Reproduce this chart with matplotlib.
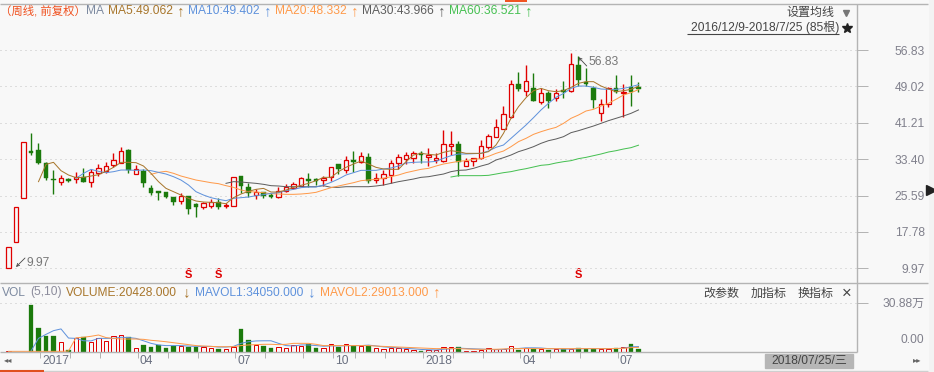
import numpy as np
import matplotlib
matplotlib.use('Agg')
import matplotlib.pyplot as plt
from matplotlib.patches import Rectangle

plt.rcParams['font.family'] = ['Liberation Sans', 'Noto Sans CJK SC', 'DejaVu Sans']

W, H = 934, 372
BG = '#f8f8f8'
RED = '#e00000'
GREEN = '#1b7a0c'
GRID = '#c4c4c4'
BORDER = '#b4b4b4'
C_MA5 = '#a8762c'
C_MA10 = '#5f92dc'
C_MA20 = '#ff9a4a'
C_MA30 = '#5e5e5e'
C_MA60 = '#46c052'

# candle data, weekly bars 2016/12/9 - 2018/7/25
opens = [9.97, 15.68, 25.13, 35.1, 35.37, 32.58, 29.14, 28.6, 29.14, 29.08, 29.5, 28.56, 30.5, 30.92, 32.2, 32.58, 35.37,
         30.15, 30.86, 27.2, 26.5, 26.35, 25.28, 24.48, 25.49, 23.77, 23.2, 23.41, 24.2, 23.28, 23.41, 29.79, 27.36, 25.77,
         26.35, 25.64, 25.34, 26.63, 27.2, 27.64, 29.14, 29.08, 28.86, 29.64, 32.36, 31.07, 33.16, 32.8, 33.8, 29.0, 29.42,
         30.0, 32.64, 33.5, 33.7, 34.7, 33.87, 33.2, 33.0, 36.3, 36.66, 32.0, 33.0, 33.59, 36.08, 38.2, 39.81, 42.4, 49.47,
         48.1, 48.62, 45.74, 47.54, 46.6, 48.25, 48.1, 53.62, 50.03, 48.62, 43.38, 45.18, 48.62, 47.54, 48.83, 48.83]
closes = [14.48, 23.07, 37.02, 34.7, 32.64, 29.36, 28.86, 29.3, 28.72, 29.64, 28.56, 30.58, 31.44, 31.87, 33.16, 35.09, 31.07,
          31.29, 28.35, 26.2, 26.2, 25.34, 24.2, 25.43, 22.77, 23.13, 23.99, 24.14, 23.2, 23.56, 29.5, 27.57, 26.2, 26.35,
          25.49, 25.34, 26.63, 27.49, 28.0, 29.3, 28.7, 28.78, 29.42, 31.65, 31.29, 33.16, 32.8, 34.0, 28.7, 29.3, 30.28,
          32.5, 33.8, 34.23, 34.66, 34.23, 34.3, 33.59, 36.6, 36.66, 32.73, 32.94, 33.59, 36.16, 38.3, 40.24, 43.03, 49.47,
          48.47, 50.12, 45.95, 47.54, 45.9, 47.67, 47.9, 53.77, 50.4, 49.54, 46.1, 45.18, 48.62, 47.9, 47.9, 47.9, 48.53]
highs = [14.48, 23.07, 37.02, 38.95, 36.8, 32.7, 31.07, 30.0, 29.4, 30.58, 31.44, 31.3, 32.36, 32.7, 34.7, 35.95, 35.5,
         32.15, 31.2, 27.8, 26.5, 26.35, 25.28, 26.07, 25.49, 23.9, 24.2, 24.85, 25.0, 23.93, 29.5, 29.79, 28.3, 26.93,
         26.35, 26.07, 27.36, 28.0, 28.5, 29.64, 30.5, 29.4, 29.79, 31.8, 32.36, 34.1, 35.15, 34.94, 34.7, 30.5, 31.07,
         33.2, 34.5, 35.0, 35.15, 35.15, 35.73, 34.66, 39.66, 39.45, 37.36, 33.59, 33.59, 37.5, 38.8, 41.96, 44.8, 50.4,
         52.2, 53.6, 51.9, 48.62, 48.0, 48.4, 50.25, 56.13, 55.55, 52.9, 49.1, 46.25, 48.9, 51.47, 49.54, 51.5, 50.0]
lows = [9.97, 15.68, 25.13, 34.3, 32.4, 28.93, 25.92, 27.85, 28.6, 28.35, 28.5, 27.5, 29.85, 30.37, 31.78, 32.5, 30.5,
        30.15, 27.4, 25.7, 24.63, 25.06, 23.63, 23.84, 21.63, 20.98, 22.77, 22.98, 22.77, 22.98, 23.41, 26.07, 25.34, 24.78,
        25.06, 25.0, 25.13, 26.29, 27.0, 27.64, 27.5, 27.85, 27.64, 28.78, 30.2, 30.5, 30.7, 32.5, 28.35, 28.35, 27.79,
        28.35, 31.29, 32.36, 32.5, 32.64, 31.93, 32.64, 32.8, 34.3, 29.85, 32.0, 32.0, 33.44, 35.65, 38.2, 39.81, 42.2,
        48.1, 46.96, 45.95, 45.25, 44.3, 45.95, 46.6, 47.9, 49.1, 49.1, 44.3, 41.66, 44.5, 47.54, 42.4, 44.8, 47.9]

# moving averages, each starts at its own bar
ma5_start = 4
ma5 = [28.57, 32.29, 32.72, 30.93, 30.0, 29.43, 29.5, 29.78, 30.07, 30.79, 31.64, 32.72, 32.72, 32.65, 31.93, 30.36, 28.57,
       27.13, 26.42, 25.7, 24.99, 24.42, 24.2, 24.13, 24.06, 23.84, 25.13, 25.92, 26.49, 26.92, 27.13, 26.35, 26.35, 26.78,
       27.35, 27.78, 28.21, 28.78, 29.5, 29.5, 30.72, 31.65, 32.36, 33.0, 32.36, 31.65, 31.29, 31.22, 31.22, 32.86, 34.29,
       34.65, 34.44, 34.29, 34.87, 35.22, 35.01, 34.65, 34.65, 34.65, 35.01, 36.44, 38.95, 42.2, 44.67, 46.6, 48.1, 48.6,
       48.1, 47.89, 48.1, 48.82, 49.68, 50.04, 50.04, 49.11, 48.46, 47.89, 48.1, 48.39, 49.06]
ma10_start = 9
ma10 = [29.28, 30.36, 31.21, 30.79, 30.5, 30.71, 31.07, 31.07, 31.0, 31.07, 30.93, 30.57, 30.21, 29.64, 28.92, 27.85, 26.42,
        25.7, 25.13, 24.77, 24.49, 24.99, 25.13, 25.27, 25.56, 25.78, 26.06, 26.2, 26.63, 26.92, 27.28, 27.42, 27.42, 27.85,
        28.42, 29.14, 30.0, 30.5, 31.0, 31.0, 31.0, 31.29, 31.5, 31.93, 32.58, 32.72, 32.79, 32.79, 32.93, 33.58, 34.15,
        34.51, 34.51, 34.58, 34.65, 35.15, 35.94, 36.44, 37.87, 39.3, 40.73, 42.31, 43.96, 45.39, 46.68, 47.5, 48.6, 49.1,
        49.1, 48.82, 48.46, 48.39, 48.39, 48.6, 48.95, 49.4]
ma20_start = 19
ma20 = [30.14, 30.57, 30.79, 30.36, 29.78, 29.35, 28.92, 28.64, 28.35, 28.14, 27.71, 27.35, 26.78, 26.42, 26.35, 26.2, 25.99,
        25.92, 25.85, 25.85, 25.92, 26.06, 26.28, 26.78, 27.28, 27.64, 28.0, 28.35, 28.78, 28.93, 29.07, 29.28, 29.64, 30.0,
        30.5, 30.86, 31.22, 31.43, 31.93, 32.36, 32.65, 32.93, 33.08, 33.36, 33.51, 34.01, 34.65, 35.15, 36.08, 37.16, 37.87,
        38.73, 39.3, 39.8, 40.23, 41.09, 42.17, 42.88, 43.74, 44.1, 44.82, 45.39, 46.25, 47.18, 47.68, 48.33]
ma30_start = 29
ma30 = [28.21, 28.57, 28.5, 28.35, 28.21, 28.0, 27.71, 27.64, 27.49, 27.49, 27.49, 27.49, 27.49, 27.71, 27.35, 27.35, 27.49,
        27.49, 27.49, 27.49, 27.64, 27.85, 28.21, 28.57, 28.85, 29.14, 29.5, 29.64, 29.93, 30.21, 30.72, 31.0, 31.07, 31.43,
        31.93, 32.36, 33.22, 33.72, 34.29, 35.01, 35.51, 36.08, 36.8, 37.37, 37.73, 38.23, 39.09, 39.52, 40.02, 40.52, 41.09,
        41.67, 42.17, 42.67, 43.24, 43.97]
ma60_start = 59
ma60 = [29.57, 29.86, 29.86, 29.86, 29.86, 29.93, 30.21, 30.5, 30.72, 31.07, 31.36, 31.72, 32.08, 32.22, 32.58, 32.86, 33.08,
        33.51, 33.79, 34.15, 34.51, 34.94, 35.22, 35.58, 35.87, 36.4]

# volume in units of 10k shares
volume = [0.4, 0.3, 0.3, 29.3, 15.0, 9.8, 9.8, 6.0, 1.0, 8.5, 9.2, 6.4, 8.5, 6.9, 9.8, 10.4, 9.2, 2.3, 4.4, 3.1, 4.6, 2.5,
          4.0, 3.5, 3.1, 3.1, 2.9, 2.3, 1.9, 1.7, 2.9, 14.4, 7.5, 4.6, 3.7, 2.5, 2.9, 2.7, 4.4, 3.5, 5.0, 2.5, 2.5, 4.8, 3.1,
          4.8, 4.0, 3.5, 4.0, 2.3, 1.7, 2.5, 2.5, 1.9, 1.0, 0.6, 1.5, 1.5, 3.1, 2.9, 3.1, 0.4, 0.6, 1.2, 2.3, 1.7, 2.1, 3.5,
          1.2, 2.3, 2.1, 1.7, 1.2, 1.9, 1.7, 2.1, 2.3, 2.1, 1.9, 1.9, 2.1, 2.5, 3.1, 4.8, 2.04]
mavol1_start = 3
mavol1 = [0.6, 8.5, 11.0, 13.3, 14.4, 8.7, 8.5, 7.0, 6.9, 8.5, 8.5, 8.5, 9.2, 9.0, 8.5, 7.0, 5.4, 4.4, 4.0, 4.0, 4.0, 3.7, 3.5,
          3.5, 3.5, 3.1, 3.1, 3.5, 5.4, 6.4, 6.9, 7.0, 7.0, 5.4, 4.0, 3.7, 4.4, 4.4, 4.0, 3.6, 3.8, 3.8, 3.9, 4.0, 4.0, 4.3,
          3.8, 3.2, 2.9, 2.6, 2.2, 2.0, 1.6, 1.4, 1.3, 1.7, 2.0, 2.4, 2.2, 2.0, 1.8, 1.6, 1.4, 1.6, 2.2, 2.2, 2.6, 2.6, 2.5,
          2.1, 2.0, 1.8, 1.8, 2.0, 2.1, 2.1, 2.1, 2.1, 2.1, 2.4, 3.2, 3.405]
mavol2 = [0.4, 0.4, 0.4, 0.4, 0.4, 0.4, 0.4, 0.4, 0.6, 8.9, 9.2, 9.8, 10.6, 9.0, 8.5, 8.1, 8.1, 8.1, 7.9, 7.3, 6.9, 6.4, 5.8,
          5.2, 4.6, 4.0, 3.7, 3.5, 3.3, 3.3, 3.3, 4.0, 4.4, 4.6, 4.8, 4.8, 4.6, 4.8, 5.4, 5.4, 5.4, 4.8, 4.0, 4.0, 4.0, 4.0,
          4.0, 4.0, 4.0, 3.7, 3.5, 3.3, 3.1, 2.9, 2.7, 2.5, 2.3, 2.1, 2.1, 2.1, 2.1, 1.9, 1.7, 1.7, 1.7, 1.7, 1.9, 2.1, 2.1,
          2.1, 2.1, 2.1, 2.1, 2.1, 2.1, 2.1, 2.1, 2.1, 2.1, 2.1, 2.1, 2.2, 2.3, 2.7, 2.9013]

price_ticks = [56.83, 49.02, 41.21, 33.40, 25.59, 17.78, 9.97]
vol_top = 30.88
month_ticks = [4, 8, 12, 17, 21, 25, 30, 34, 39, 43, 46, 50, 55, 59, 63, 68, 72, 76, 81]
month_bars = [4, 17, 30, 43, 55, 68, 81]
month_labels = ['2017', '04', '07', '10', '2018', '04', '07']
signal_bars = [24, 28, 76]


def px_axes(fig, left, top, right, bottom):
    return fig.add_axes([left / W, 1 - bottom / H, (right - left) / W, (bottom - top) / H])


fig = plt.figure(figsize=(W / 100, H / 100), dpi=100, facecolor='#f3f3f3')
fig.patches.append(Rectangle((0, 0), 928 / W, 1, transform=fig.transFigure, color=BG, zorder=-5))

# bars sit at x = 8.5 + 7.5 * i pixels
xlim = ((0 - 8.5) / 7.5, (857 - 8.5) / 7.5)
idx = np.arange(len(closes))
o, c, hi, lo = map(np.array, (opens, closes, highs, lows))
up = c >= o

# price panel
ax = px_axes(fig, 0, 3.5, 857, 283)
ax.patch.set_alpha(0)
ax.set_xlim(xlim)
ax.set_ylim(9.97 + (268.3 - 283) * 0.2147, 9.97 + (268.3 - 3.5) * 0.2147)
for p in price_ticks:
    ax.axhline(p, color=GRID, lw=0.72, ls=(0, (1, 4)), zorder=1)
ax.vlines(idx[up], lo[up], hi[up], color=RED, lw=1.0, zorder=2)
ax.vlines(idx[~up], lo[~up], hi[~up], color=GREEN, lw=1.0, zorder=2)
bot = np.minimum(o, c)
tall = np.maximum(np.abs(c - o), 0.3)
ax.bar(idx[up], tall[up], bottom=bot[up], width=0.55, facecolor=BG, edgecolor=RED, lw=0.9, zorder=3)
ax.bar(idx[~up], tall[~up], bottom=bot[~up], width=0.66, facecolor=GREEN, edgecolor=GREEN, lw=0.3, zorder=3)
for vals, start, col in [(ma60, ma60_start, C_MA60), (ma30, ma30_start, C_MA30), (ma20, ma20_start, C_MA20),
                         (ma10, ma10_start, C_MA10), (ma5, ma5_start, C_MA5)]:
    ax.plot(np.arange(start, start + len(vals)), vals, color=col, lw=0.72, zorder=4)
arrow = dict(arrowstyle='->', color='#444444', lw=0.6, shrinkA=0, shrinkB=0, mutation_scale=5)
ax.annotate('', xy=(1.0, 10.25), xytext=(2.2, 12.18), arrowprops=arrow)
ax.text(2.4, 11.1, '9.97', fontsize=8.64, color='#777777', va='center')
ax.annotate('', xy=(76.0, 55.3), xytext=(77.1, 53.4), arrowprops=arrow)
ax.text(77.3, 54.26, '56.83', fontsize=8.64, color='#777777', va='center')
for b in signal_bars:
    ax.text(b, 9.97 + (268.3 - 275) * 0.2147, 'Ŝ', color=RED, fontsize=8, fontweight='bold', ha='center', va='center')
ax.yaxis.tick_right()
ax.set_yticks(price_ticks)
ax.set_yticklabels(['%.2f' % p for p in price_ticks], fontsize=8.64, color='#80808c', ha='right')
ax.tick_params(axis='y', length=7.9, width=0.72, color=BORDER, pad=41)
ax.set_xticks([])
for s in ax.spines.values():
    s.set_visible(False)

# volume panel
av = px_axes(fig, 0, 283, 857, 352)
av.patch.set_alpha(0)
av.set_xlim(xlim)
vol_scale = 30.88 / (352 - 302.5)
av.set_ylim(0, (352 - 283) * vol_scale)
av.axhline(vol_top, color=GRID, lw=0.72, ls=(0, (1, 4)), zorder=1)
v = np.array(volume)
av.bar(idx[up], v[up], width=0.55, facecolor=BG, edgecolor=RED, lw=0.72, zorder=2)
av.bar(idx[~up], v[~up], width=0.66, facecolor=GREEN, edgecolor=GREEN, lw=0.2, zorder=2)
av.plot(np.arange(mavol1_start, mavol1_start + len(mavol1)), mavol1, color=C_MA10, lw=0.72, zorder=3)
av.plot(np.arange(len(mavol2)), mavol2, color=C_MA20, lw=0.72, zorder=3)
av.yaxis.tick_right()
av.set_yticks([vol_top])
av.set_yticklabels(['30.88万'], fontsize=8.64, color='#80808c', ha='right')
av.tick_params(axis='y', length=7.9, width=0.72, color=BORDER, pad=41)
av.set_xticks(np.array(month_ticks) + 0.25)
av.set_xticklabels([])
av.tick_params(axis='x', length=4, width=0.72, color=BORDER)
for s in av.spines.values():
    s.set_visible(False)

# everything around the plots, laid out in pixels
ui = fig.add_axes([0, 0, 1, 1])
ui.set_xlim(0, W)
ui.set_ylim(H, 0)
ui.axis('off')
ui.patch.set_alpha(0)
ui.hlines([3.5, 283], 0, 928, color=BORDER, lw=1.0)
ui.hlines([352], 0, 857, color=BORDER, lw=1.0)
ui.hlines([370.5], 0, 928, color='#cfcfcf', lw=1.0)
ui.vlines([857], 3.5, 352, color=BORDER, lw=1.0)
ui.hlines([0.5], 505, 527, color='#f0501e', lw=1.4)
ui.hlines([371], 0, 44, color='#e0501e', lw=1.5)
ui.vlines([88, 133, 177, 222, 266, 311, 369, 437, 519, 587, 663, 700, 745, 783, 827, 871], 370.5, 372, color='#cfcfcf', lw=0.8)
ui.plot([931], [190], marker='>', ms=6.5, color='#222222', clip_on=False)


def label(x, y, s, color, size=8.64, ha='left'):
    ui.text(x, y, s, color=color, fontsize=size, ha=ha, va='center')


label(0, 10.5, '（周线, 前复权）', '#f0501e', size=8.2)
label(86, 11.5, 'MA', '#7d8aa0')
for x, s, col, ax_x, mark in [(108, 'MA5:49.062', C_MA5, 181, '↑'), (188, 'MA10:49.402', C_MA10, 268, '↑'),
                              (275, 'MA20:48.332', C_MA20, 355, '↑'), (362, 'MA30:43.966', C_MA30, 442, '↑'),
                              (449, 'MA60:36.521', C_MA60, 529, '↑')]:
    label(x, 11.5, s, col)
    ui.text(ax_x, 11.5, mark, color=col, fontsize=11, ha='center', va='center')
label(834, 13, '设置均线', '#444444', ha='right')
ui.plot([846], [12.5], marker='v', ms=4, color='#777777')
label(839, 27.5, '2016/12/9-2018/7/25 (85根)', '#444444', ha='right')
ui.hlines([33.5], 687, 839, color='#444444', lw=0.8)
ui.plot([847], [28], marker='*', ms=7, color='#222222')

label(2, 292.5, 'VOL', '#7d8aa0')
label(30, 292.5, '(5,10)', '#8c8c9c')
label(66, 292.5, 'VOLUME:20428.000', C_MA5)
ui.text(187, 292.5, '↓', color=C_MA5, fontsize=11, ha='center', va='center')
label(195, 292.5, 'MAVOL1:34050.000', C_MA10)
ui.text(312, 292.5, '↓', color=C_MA10, fontsize=11, ha='center', va='center')
label(320, 292.5, 'MAVOL2:29013.000', C_MA20)
ui.text(437, 292.5, '↑', color=C_MA20, fontsize=11, ha='center', va='center')
label(703, 293.5, '改参数', '#444444')
label(751, 293.5, '加指标', '#444444')
label(798, 293.5, '换指标', '#444444')
label(847, 293.5, '×', '#444444', size=12, ha='center')
label(924, 340, '0.00', '#80808c', ha='right')

for b, s in zip(month_bars, month_labels):
    label(8.5 + 7.5 * b + 4, 360.5, s, '#6a7080')
ui.add_patch(Rectangle((765, 354), 88, 14, color='#b6b6b6'))
label(809, 361, '2018/07/25/三', '#444444', ha='center')
label(8, 361, '◂◂', '#666666', size=6, ha='center')
label(917, 361, '▸▸', '#666666', size=6, ha='center')

fig.savefig('out.png', dpi=100, facecolor=fig.get_facecolor())
